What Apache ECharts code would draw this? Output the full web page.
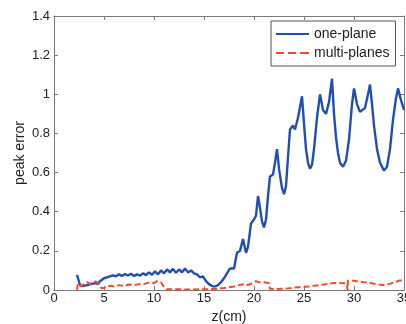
<!DOCTYPE html>
<html>
<head>
<meta charset="utf-8">
<script src="https://cdn.jsdelivr.net/npm/echarts@6/dist/echarts.min.js"></script>
<style>
html,body{margin:0;padding:0;background:#fff;}
#chart{width:406px;height:324px;}
</style>
</head>
<body>
<div id="chart"></div>
<script>
// one-plane (blue solid)
var zOne = [2.3,2.4,2.6,2.9,3.3,3.7,4.1,4.4,4.6,4.8,5.0,5.3,5.6,5.9,6.2,6.5,6.8,7.1,7.4,7.7,8.0,8.3,8.6,8.9,9.2,9.5,9.8,10.1,10.4,10.7,11.0,11.3,11.6,11.9,12.2,12.5,12.8,13.1,13.4,13.7,14.0,14.3,14.6,14.9,15.2,15.5,15.8,16.1,16.4,16.7,17.0,17.3,17.6,17.8,18.0,18.3,18.6,18.9,19.2,19.4,19.7,20.0,20.2,20.4,20.6,20.8,21.0,21.2,21.4,21.6,21.9,22.1,22.3,22.5,22.8,23.0,23.2,23.4,23.6,23.9,24.1,24.4,24.8,25.0,25.2,25.4,25.6,25.8,26.0,26.3,26.6,26.9,27.2,27.5,27.8,28.0,28.2,28.4,28.6,28.9,29.2,29.5,29.8,30.0,30.3,30.6,30.8,31.1,31.4,31.6,31.8,32.0,32.3,32.6,33.0,33.3,33.6,33.9,34.2,34.4,34.7,35.0];
var vOne = [0.077,0.06,0.025,0.02,0.025,0.03,0.035,0.03,0.045,0.05,0.06,0.065,0.07,0.075,0.07,0.08,0.072,0.082,0.074,0.083,0.072,0.08,0.074,0.085,0.076,0.09,0.078,0.095,0.08,0.1,0.085,0.105,0.09,0.108,0.088,0.105,0.09,0.11,0.09,0.1,0.085,0.08,0.065,0.07,0.045,0.03,0.02,0.018,0.025,0.04,0.06,0.085,0.11,0.105,0.11,0.19,0.2,0.26,0.19,0.22,0.34,0.36,0.38,0.48,0.42,0.35,0.32,0.36,0.48,0.58,0.59,0.65,0.72,0.62,0.52,0.49,0.53,0.68,0.82,0.84,0.82,0.88,0.99,0.85,0.72,0.65,0.62,0.64,0.72,0.88,1.0,0.92,0.9,0.96,1.08,0.9,0.78,0.7,0.65,0.63,0.66,0.77,0.95,1.03,0.95,0.91,0.9,0.93,1.0,1.05,0.95,0.84,0.72,0.65,0.61,0.63,0.72,0.87,0.98,1.03,0.97,0.92];

// multi-planes (red dashed)
var zMulti = [2.3,2.4,2.7,3.0,3.3,3.6,4.0,4.3,4.5,4.7,5.0,5.3,5.7,6.0,6.5,7.0,7.5,8.0,8.5,9.0,9.5,10.0,10.3,10.7,11.0,11.3,12.0,13.0,14.0,15.0,16.0,16.5,17.0,17.5,18.0,18.5,19.0,19.4,19.8,20.2,20.5,20.8,21.2,21.5,21.6,22.0,23.0,24.0,24.5,25.0,25.5,26.0,26.5,27.0,27.5,28.0,28.5,29.0,29.3,29.35,29.4,30.0,30.5,31.0,31.5,32.0,32.5,33.0,33.5,34.0,34.5,35.0];
var vMulti = [0.0,0.035,0.02,0.03,0.04,0.03,0.045,0.04,0.03,0.01,0.01,0.02,0.022,0.018,0.025,0.02,0.028,0.025,0.03,0.03,0.038,0.035,0.045,0.04,0.015,0.004,0.004,0.003,0.003,0.004,0.005,0.008,0.01,0.014,0.018,0.025,0.03,0.025,0.035,0.045,0.04,0.04,0.038,0.035,0.006,0.005,0.006,0.012,0.014,0.016,0.018,0.022,0.025,0.028,0.033,0.036,0.036,0.035,0.03,0.0,0.048,0.047,0.043,0.04,0.038,0.032,0.028,0.025,0.03,0.038,0.048,0.05];

var seriesNames = ['one-plane','multi-planes'];
var xTicks = [0,5,10,15,20,25,30,35];

var chart = echarts.init(document.getElementById('chart'), null, {renderer:'canvas'});
var font = 'Liberation Sans, Arial, sans-serif';
var axisCol = '#7a7a7a';
function baseAxis(extra){
  return Object.assign({
    axisLine:{show:true, onZero:false, lineStyle:{color:axisCol, width:1}},
    axisTick:{show:true, inside:true, length:4, lineStyle:{color:axisCol}},
    splitLine:{show:false}
  }, extra);
}
chart.setOption({
  animation:false,
  backgroundColor:'#fff',
  grid:{left:54, right:2, top:16, bottom:34, containLabel:false, outerBoundsMode:'none'},
  legend:{
    orient:'vertical', left:271, top:21,
    padding:[6,6,6,5], itemGap:5, itemWidth:33, itemHeight:2,
    backgroundColor:'#fff', borderColor:'#555', borderWidth:1,
    textStyle:{fontFamily:font, fontSize:14, color:'#222'},
    data:[
      {name:seriesNames[0], icon:'path://M0,0L33,0L33,2L0,2Z'},
      {name:seriesNames[1], icon:'path://M0,0h8v2h-8zM12,0h8v2h-8zM24,0h9v2h-9z'}
    ]
  },
  xAxis:[
    baseAxis({type:'value', position:'bottom', min:xTicks[0], max:xTicks[xTicks.length-1], interval:5,
      name:'z(cm)', nameLocation:'middle', nameGap:20, nameMoveOverlap:false,
      nameTextStyle:{fontFamily:font, fontSize:14, color:'#222'},
      axisLabel:{fontFamily:font, fontSize:13, color:'#222', margin:2}}),
    baseAxis({type:'value', position:'top', min:xTicks[0], max:xTicks[xTicks.length-1], interval:5,
      axisLabel:{show:false}})
  ],
  yAxis:[
    baseAxis({type:'value', position:'left', min:0, max:1.4, interval:0.2,
      name:'peak error', nameLocation:'middle', nameGap:27, nameRotate:90, nameMoveOverlap:false,
      nameTextStyle:{fontFamily:font, fontSize:14, color:'#222'},
      axisLabel:{fontFamily:font, fontSize:13, color:'#222', margin:4}}),
    baseAxis({type:'value', position:'right', min:0, max:1.4, interval:0.2,
      axisLabel:{show:false}})
  ],
  series:[
    {name:seriesNames[0], type:'line', symbol:'none', xAxisIndex:0, yAxisIndex:0,
      lineStyle:{color:'#1f4fb4', width:2.4}, itemStyle:{color:'#1f4fb4'},
      data:zOne.map(function(z,i){return [z, vOne[i]];})},
    {name:seriesNames[1], type:'line', symbol:'none', xAxisIndex:0, yAxisIndex:0,
      lineStyle:{color:'#f24b2c', width:2, type:[6,3]}, itemStyle:{color:'#f24b2c'},
      data:zMulti.map(function(z,i){return [z, vMulti[i]];})}
  ]
});
</script>
</body>
</html>
